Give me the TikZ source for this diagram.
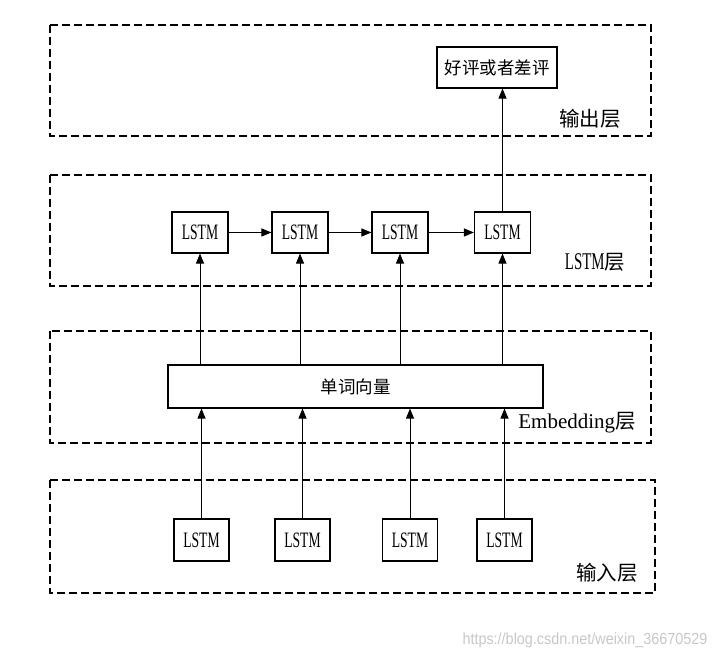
\documentclass[tikz,border=0pt]{standalone}
\usepackage{fontspec}
\setmainfont{Liberation Serif}
\newfontfamily\cjk{Noto Sans CJK SC}
\newfontfamily\wmfont{Liberation Sans}
\usetikzlibrary{arrows.meta}
\newcommand{\cond}[1]{\scalebox{0.62}[1]{#1}}
\begin{document}
\begin{tikzpicture}[x=1pt,y=-1pt,
  layerbox/.style={draw, line width=1.3pt, dash pattern=on 8pt off 4pt},
  cell/.style={draw, line width=1.1pt, rectangle, inner sep=0pt, minimum width=56pt, minimum height=41pt, font=\fontsize{22}{24}\selectfont},
  arr/.style={line width=0.9pt, -{Triangle[length=10pt,width=8pt]}},
  lbl/.style={font=\fontsize{21}{24}\selectfont, inner sep=0pt}]
\useasboundingbox (0,0) rectangle (726,660);
% layer boxes
\draw[layerbox] (50,25) rectangle (651,136);
\draw[layerbox] (50,175) rectangle (651,286);
\draw[layerbox] (50,331) rectangle (651,443);
\draw[layerbox] (50,480) rectangle (655,593);
% output
\node[cell, minimum width=120pt, font=\cjk\fontsize{17.5}{19}\selectfont] (out) at (497,67.5) {好评或者差评};
% LSTM layer
\node[cell] (l1) at (200,232.5) {\cond{LSTM}};
\node[cell] (l2) at (300,232.5) {\cond{LSTM}};
\node[cell] (l3) at (400,232.5) {\cond{LSTM}};
\node[cell] (l4) at (502.5,232.5) {\cond{LSTM}};
% embedding
\node[cell, minimum width=375pt, minimum height=43pt, font=\cjk\fontsize{17.5}{19}\selectfont] (emb) at (355.5,386.5) {单词向量};
% input
\node[cell, minimum width=55pt, minimum height=42pt] (i1) at (201.5,540) {\cond{LSTM}};
\node[cell, minimum width=55pt, minimum height=42pt] (i2) at (302.5,540) {\cond{LSTM}};
\node[cell, minimum width=55pt, minimum height=42pt] (i3) at (410,540) {\cond{LSTM}};
\node[cell, minimum width=55pt, minimum height=42pt] (i4) at (504.5,540) {\cond{LSTM}};
% labels
\node[lbl, font=\cjk\fontsize{20.5}{22}\selectfont] (lo) at (590,119) {输出层};
\node[lbl] (ll) at (595,262) {\cond{\fontsize{24}{26}\selectfont LSTM}{\cjk\fontsize{20.5}{22}\selectfont 层}};
\node[lbl] (le) at (577,423) {Embedding{\cjk\fontsize{20.5}{22}\selectfont 层}};
\node[lbl, font=\cjk\fontsize{20.5}{22}\selectfont] (li) at (607,573) {输入层};
% watermark
\node[inner sep=0pt, text=black!22, font=\wmfont\fontsize{16}{18}\selectfont] (wm) at (585,640) {\scalebox{0.9}[1]{https://blog.csdn.net/weixin\_36670529}};
% connectors
\draw[arr] (l1) -- (l2);
\draw[arr] (l2) -- (l3);
\draw[arr] (l3) -- (l4);
\draw[arr] (l4.north) -- (l4.north |- out.south);
\foreach \k in {1,2,3,4}{
  \draw[arr] (emb.north -| l\k) -- (l\k.south);
  \draw[arr] (i\k.north) -- (i\k.north |- emb.south);
}
\end{tikzpicture}
\end{document}
